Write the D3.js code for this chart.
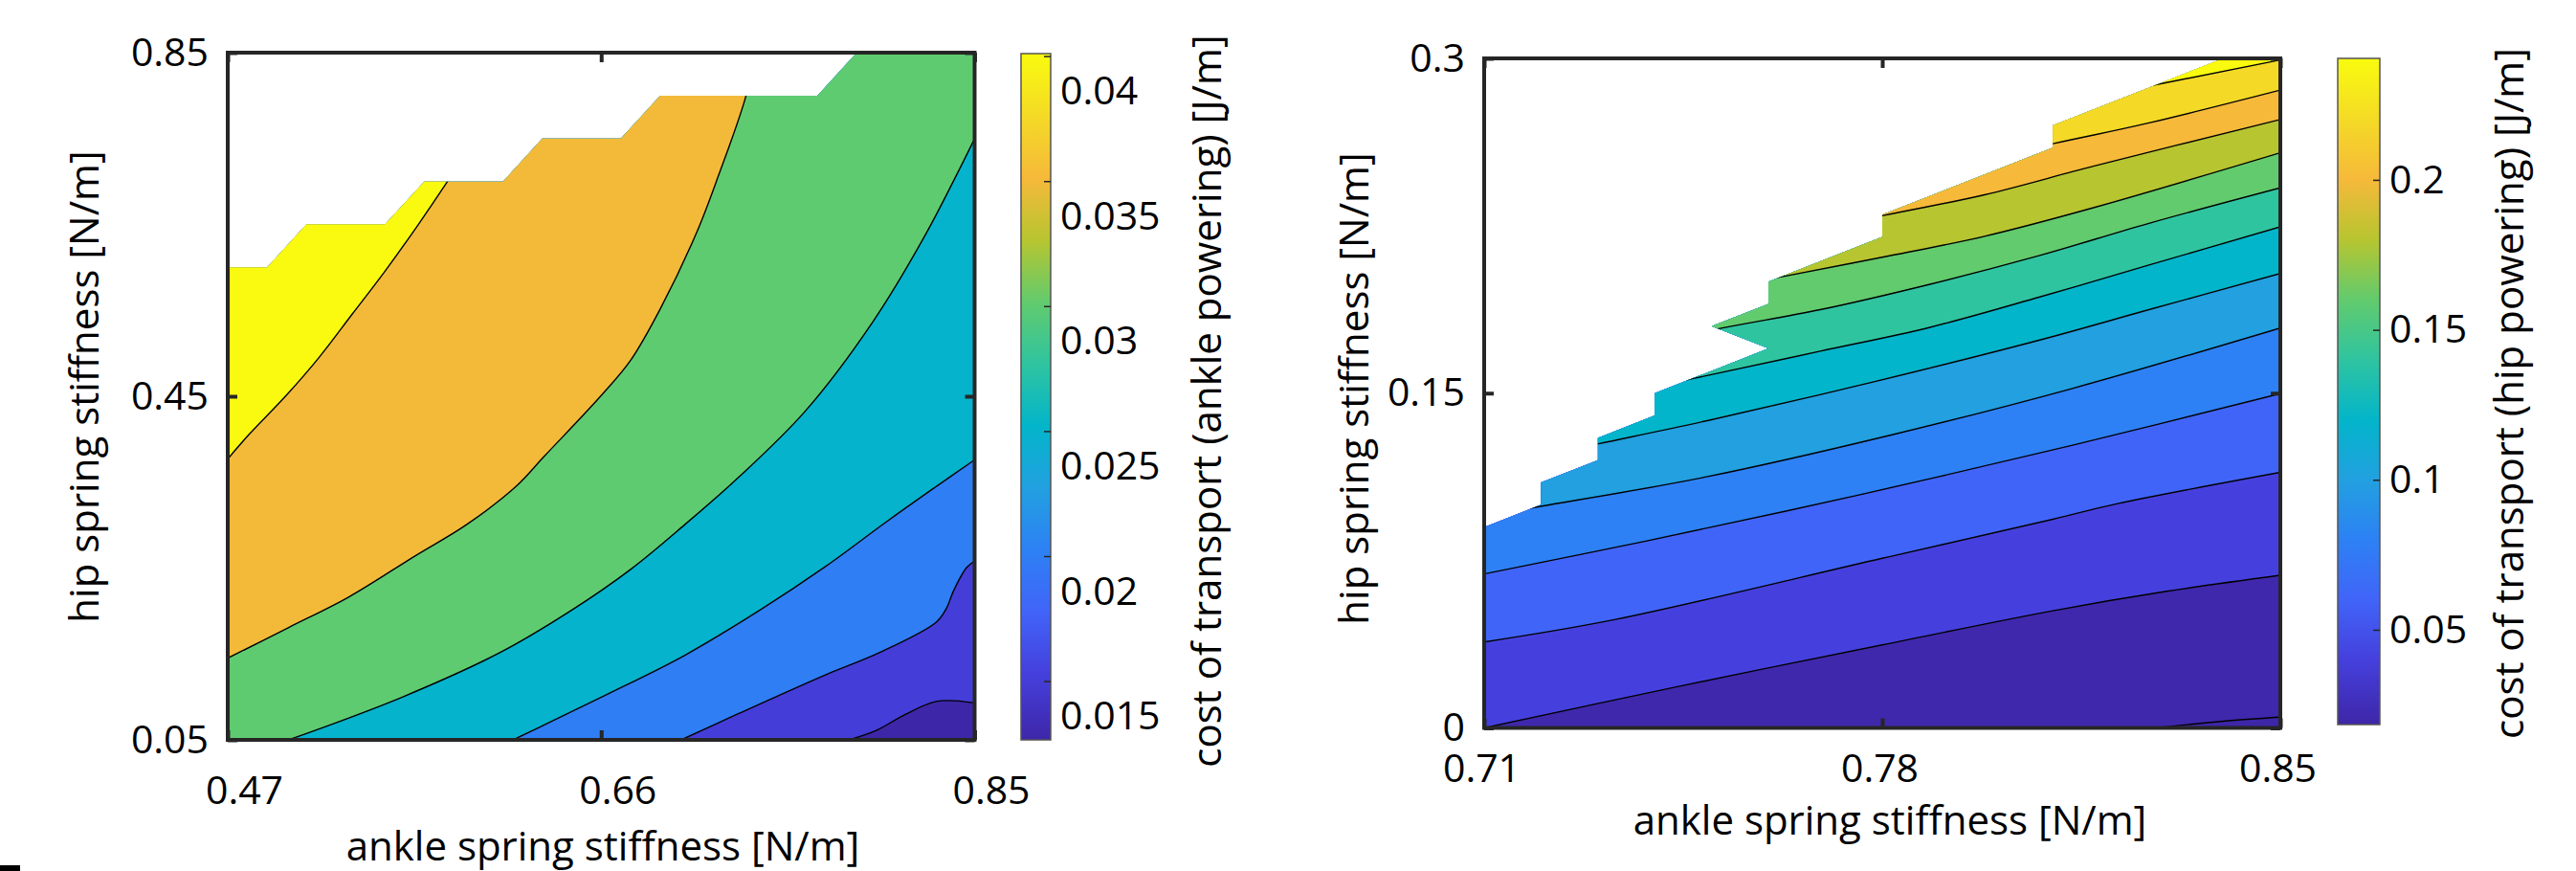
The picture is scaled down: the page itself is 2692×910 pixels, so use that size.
<!DOCTYPE html>
<html>
<head>
<meta charset="utf-8">
<script src="https://cdn.jsdelivr.net/npm/d3@7"></script>
<style>
  body { margin: 0; background: #fff; }
</style>
</head>
<body>
<svg id="chart" width="2692" height="910"></svg>
<script>
// ================= DATA =================

// Left panel: cost of transport with ankle powering
const ankleXTicks = [0.47, 0.66, 0.85];
const ankleYTicks = [0.05, 0.45, 0.85];
const ankleLevels = [0.015, 0.02, 0.025, 0.03, 0.035, 0.04];
// contour lines, [ankle stiffness, hip stiffness], one per level
const ankleIsolines = [
  [[0.786, 0.05], [0.80, 0.061], [0.815, 0.08], [0.831, 0.095], [0.85, 0.093]],
  [[0.7007, 0.05], [0.7297, 0.0804], [0.7741, 0.1257], [0.8015, 0.1515], [0.8305, 0.1871], [0.8357, 0.2033], [0.8391, 0.2226], [0.8459, 0.2505], [0.85, 0.2582]],
  [[0.6152, 0.05], [0.634, 0.0707], [0.6631, 0.103], [0.7024, 0.1483], [0.74, 0.2], [0.7741, 0.2518], [0.8049, 0.3035], [0.8288, 0.3423], [0.85, 0.376]],
  [[0.5008, 0.05], [0.5144, 0.061], [0.5588, 0.0998], [0.6084, 0.1515], [0.6443, 0.2], [0.675, 0.2485], [0.7024, 0.3003], [0.7297, 0.3552], [0.7639, 0.4329], [0.7981, 0.5363], [0.8254, 0.6398], [0.85, 0.75]],
  [[0.47, 0.1451], [0.5008, 0.1806], [0.5315, 0.2162], [0.5657, 0.2647], [0.5913, 0.3003], [0.6169, 0.3455], [0.631, 0.38], [0.66, 0.4508], [0.6749, 0.4916], [0.6899, 0.551], [0.7085, 0.6402], [0.7197, 0.707], [0.7337, 0.80], [0.738, 0.85]],
  [[0.47, 0.377], [0.4811, 0.4062], [0.4997, 0.4508], [0.5165, 0.4953], [0.5333, 0.5455], [0.55, 0.5956], [0.5668, 0.6494], [0.5817, 0.6996], [0.624, 0.85]]
];
// outline of the region where a solution exists (white outside)
const ankleFeasible = [[0.47, 0.05], [0.85, 0.05], [0.85, 0.85], [0.79, 0.85], [0.77, 0.80], [0.69, 0.80], [0.67, 0.75], [0.63, 0.75], [0.61, 0.70], [0.57, 0.70], [0.55, 0.65], [0.51, 0.65], [0.49, 0.60], [0.47, 0.60]];
const ankleCbTicks = [0.015, 0.02, 0.025, 0.03, 0.035, 0.04];
const ankleCbRange = [0.01265, 0.0401];

// Right panel: cost of transport with hip powering
const hipXTicks = [0.71, 0.78, 0.85];
const hipYTicks = [0, 0.15, 0.3];
const hipLevels = [0.02, 0.04, 0.06, 0.08, 0.10, 0.12, 0.14, 0.16, 0.18, 0.20, 0.22, 0.24];
const hipIsolines = [
  [[0.828, 0], [0.84, 0.003], [0.85, 0.0048]],
  [[0.71, 0], [0.744, 0.0185], [0.78, 0.0372], [0.81, 0.0525], [0.83, 0.0612], [0.85, 0.0684]],
  [[0.71, 0.0385], [0.7331, 0.0486], [0.78, 0.076], [0.81, 0.0935], [0.8214, 0.1005], [0.85, 0.1145]],
  [[0.71, 0.069], [0.7384, 0.0837], [0.7759, 0.1044], [0.8133, 0.1266], [0.85, 0.1498]],
  [[0.71, 0.095], [0.7202, 0.0994], [0.7491, 0.1125], [0.7812, 0.131], [0.8133, 0.152], [0.85, 0.1792]],
  [[0.71, 0.1165], [0.7301, 0.1273], [0.7498, 0.138], [0.7787, 0.1552], [0.8077, 0.1738], [0.8269, 0.1874], [0.85, 0.2036]],
  [[0.71, 0.1363], [0.747, 0.1567], [0.7691, 0.1688], [0.7884, 0.1795], [0.8077, 0.1931], [0.8269, 0.2074], [0.85, 0.2245]],
  [[0.71, 0.158], [0.7515, 0.179], [0.7691, 0.1874], [0.7884, 0.1988], [0.8077, 0.2117], [0.8269, 0.2261], [0.85, 0.242]],
  [[0.71, 0.1766], [0.7628, 0.2024], [0.7802, 0.211], [0.798, 0.2203], [0.8173, 0.2332], [0.85, 0.2577]],
  [[0.71, 0.193], [0.7802, 0.2296], [0.798, 0.2389], [0.8173, 0.2518], [0.85, 0.2726]],
  [[0.71, 0.2068], [0.81, 0.2618], [0.8269, 0.2711], [0.85, 0.2858]],
  [[0.71, 0.2283], [0.8283, 0.2883], [0.85, 0.2993]]
];
const hipFeasible = [[0.71, 0], [0.85, 0], [0.85, 0.30], [0.84, 0.30], [0.81, 0.27], [0.81, 0.26], [0.78, 0.23], [0.78, 0.22], [0.76, 0.20], [0.76, 0.19], [0.75, 0.18], [0.76, 0.17], [0.74, 0.15], [0.74, 0.14], [0.73, 0.13], [0.73, 0.12], [0.72, 0.11], [0.72, 0.10], [0.71, 0.09]];
const hipCbTicks = [0.05, 0.1, 0.15, 0.2];
const hipCbRange = [0.0184, 0.2405];

// ================= STYLE =================

const FONT = "'Open Sans', sans-serif";
const AXIS_COLOR = "#262626";

// parula-like colour map (position 0..1 -> colour)
const parulaStops = [[0, "#3e26a8"], [0.097, "#4540dd"], [0.187, "#4164f8"], [0.277, "#2d81f4"],
  [0.367, "#22a0e0"], [0.457, "#03b5ca"], [0.548, "#2fc4a0"], [0.638, "#62cb6d"],
  [0.728, "#b7c530"], [0.818, "#f6b93a"], [0.908, "#f4da26"], [1, "#f9fb0e"]];
const parula = d3.scaleLinear()
  .domain(parulaStops.map(d => d[0]))
  .range(parulaStops.map(d => d[1]))
  .interpolate(d3.interpolateRgb)
  .clamp(true);

const svg = d3.select("#chart");
const defs = svg.append("defs");

// small mark in the bottom-left corner of the figure
svg.append("rect").attr("x", 0).attr("y", 904).attr("width", 21).attr("height", 6).attr("fill", "#000");

function styleAxis(g, size) {
  g.select(".domain").remove();
  g.attr("font-size", size).attr("font-family", FONT);
  g.selectAll("line").attr("stroke", AXIS_COLOR);
  g.selectAll("text").attr("fill", "#000");
}

function drawPanel(p) {
  const x = d3.scaleLinear().domain(p.xDomain).range([p.left, p.right]);
  const y = d3.scaleLinear().domain(p.yDomain).range([p.bottom, p.top]);
  const cb = d3.scaleLinear().domain(p.cbRange).range([p.cbBottom, p.cbTop]);
  const fillOf = v => parula((v - p.cbRange[0]) / (p.cbRange[1] - p.cbRange[0]));
  const line = d3.line().x(d => x(d[0])).y(d => y(d[1]));
  const smooth = d3.line().x(d => x(d[0])).y(d => y(d[1])).curve(d3.curveCatmullRom.alpha(0.5));
  const [x0, x1] = p.xDomain, [y0, y1] = p.yDomain;

  const g = svg.append("g");

  // clip everything to the feasible region
  defs.append("clipPath").attr("id", p.id + "-clip")
    .append("path").attr("d", line(p.feasible) + "Z");
  const body = g.append("g").attr("clip-path", `url(#${p.id}-clip)`);

  // lowest band
  body.append("path").attr("d", line(p.feasible) + "Z").attr("fill", fillOf(p.cbRange[0]));

  // each level: fill the high side of its contour line
  p.isolines.forEach((pts, i) => {
    const start = pts[0], end = pts[pts.length - 1];
    const corners = [];
    if (end[0] >= x1) corners.push([x1, y1]);
    corners.push([x0, y1]);
    if (start[1] <= y0) corners.push([x0, y0]);
    const d = smooth(pts) + corners.map(c => `L${x(c[0])},${y(c[1])}`).join("") + "Z";
    body.append("path").attr("d", d).attr("fill", fillOf(p.levels[i]));
  });

  // contour lines
  body.selectAll("path.iso")
    .data(p.isolines)
    .join("path")
    .attr("class", "iso")
    .attr("d", smooth)
    .attr("fill", "none")
    .attr("stroke", "#000")
    .attr("stroke-width", 1.4);

  // axes (ticks point inward, on all four sides)
  g.append("g").attr("transform", `translate(0,${p.bottom})`)
    .call(d3.axisBottom(x).tickValues(p.xTicks).tickFormat(d3.format(".2f")).tickSize(-10).tickPadding(p.xPad))
    .call(a => styleAxis(a, 41))
    .call(a => a.selectAll("line").attr("stroke-width", 4))
    .selectAll("text").attr("dx", p.xShift);
  g.append("g").attr("transform", `translate(0,${p.top})`)
    .call(d3.axisTop(x).tickValues(p.xTicks).tickFormat("").tickSize(-10))
    .call(a => styleAxis(a, 41))
    .call(a => a.selectAll("line").attr("stroke-width", 4));
  g.append("g").attr("transform", `translate(${p.left},0)`)
    .call(d3.axisLeft(y).tickValues(p.yTicks).tickFormat(d3.format("~g")).tickSize(-10).tickPadding(p.yPad))
    .call(a => styleAxis(a, 41))
    .call(a => a.selectAll("line").attr("stroke-width", 4));
  g.append("g").attr("transform", `translate(${p.right},0)`)
    .call(d3.axisRight(y).tickValues(p.yTicks).tickFormat("").tickSize(-10))
    .call(a => styleAxis(a, 41))
    .call(a => a.selectAll("line").attr("stroke-width", 4));

  // frame
  g.append("rect")
    .attr("x", p.left).attr("y", p.top)
    .attr("width", p.right - p.left).attr("height", p.bottom - p.top)
    .attr("fill", "none").attr("stroke", AXIS_COLOR).attr("stroke-width", 4);

  // axis titles
  g.append("text")
    .attr("x", p.xTitle[0]).attr("y", p.xTitle[1])
    .attr("text-anchor", "middle").attr("font-family", FONT).attr("font-size", 42)
    .text("ankle spring stiffness [N/m]");
  g.append("text")
    .attr("transform", `translate(${p.yTitle[0]},${p.yTitle[1]}) rotate(-90)`)
    .attr("text-anchor", "middle").attr("font-family", FONT).attr("font-size", 42)
    .text("hip spring stiffness [N/m]");

  // colour bar
  const grad = defs.append("linearGradient").attr("id", p.id + "-grad")
    .attr("x1", 0).attr("y1", 1).attr("x2", 0).attr("y2", 0);
  grad.selectAll("stop").data(parulaStops).join("stop")
    .attr("offset", d => d[0]).attr("stop-color", d => d[1]);
  g.append("rect")
    .attr("x", p.cbLeft).attr("y", p.cbTop)
    .attr("width", p.cbRight - p.cbLeft).attr("height", p.cbBottom - p.cbTop)
    .attr("fill", `url(#${p.id}-grad)`)
    .attr("stroke", "#555").attr("stroke-width", 1.5);
  g.append("g").attr("transform", `translate(${p.cbRight},0)`)
    .call(d3.axisRight(cb).tickValues(p.cbTicks).tickFormat(d3.format("~g")).tickSize(-7).tickPadding(10))
    .call(a => styleAxis(a, 41))
    .call(a => a.selectAll("line").attr("stroke-width", 1.5))
    .selectAll("text").attr("y", p.cbLabelShift);
  g.append("text")
    .attr("transform", `translate(${p.cbTitle[0]},${p.cbTitle[1]}) rotate(-90)`)
    .attr("text-anchor", "middle").attr("font-family", FONT).attr("font-size", 42)
    .text(p.cbLabel);
}

drawPanel({
  id: "ankle",
  xDomain: [0.47, 0.85], yDomain: [0.05, 0.85],
  left: 238, right: 1018.5, top: 55, bottom: 773,
  xTicks: ankleXTicks, yTicks: ankleYTicks,
  levels: ankleLevels, isolines: ankleIsolines, feasible: ankleFeasible,
  xPad: 38, xShift: 17, yPad: 20,
  xTitle: [630, 899], yTitle: [103, 404],
  cbRange: ankleCbRange, cbTicks: ankleCbTicks,
  cbLeft: 1067, cbRight: 1098, cbTop: 56, cbBottom: 773, cbLabelShift: 37,
  cbTitle: [1276, 419], cbLabel: "cost of transport (ankle powering) [J/m]"
});

drawPanel({
  id: "hip",
  xDomain: [0.71, 0.85], yDomain: [0, 0.3],
  left: 1551, right: 2383, top: 61, bottom: 760.5,
  xTicks: hipXTicks, yTicks: hipYTicks,
  levels: hipLevels, isolines: hipIsolines, feasible: hipFeasible,
  xPad: 27, xShift: -3, yPad: 20,
  xTitle: [1975, 872], yTitle: [1430, 406],
  cbRange: hipCbRange, cbTicks: hipCbTicks,
  cbLeft: 2443, cbRight: 2487, cbTop: 61, cbBottom: 757, cbLabelShift: 0,
  cbTitle: [2637, 411], cbLabel: "cost of transport (hip powering) [J/m]"
});
</script>
</body>
</html>
